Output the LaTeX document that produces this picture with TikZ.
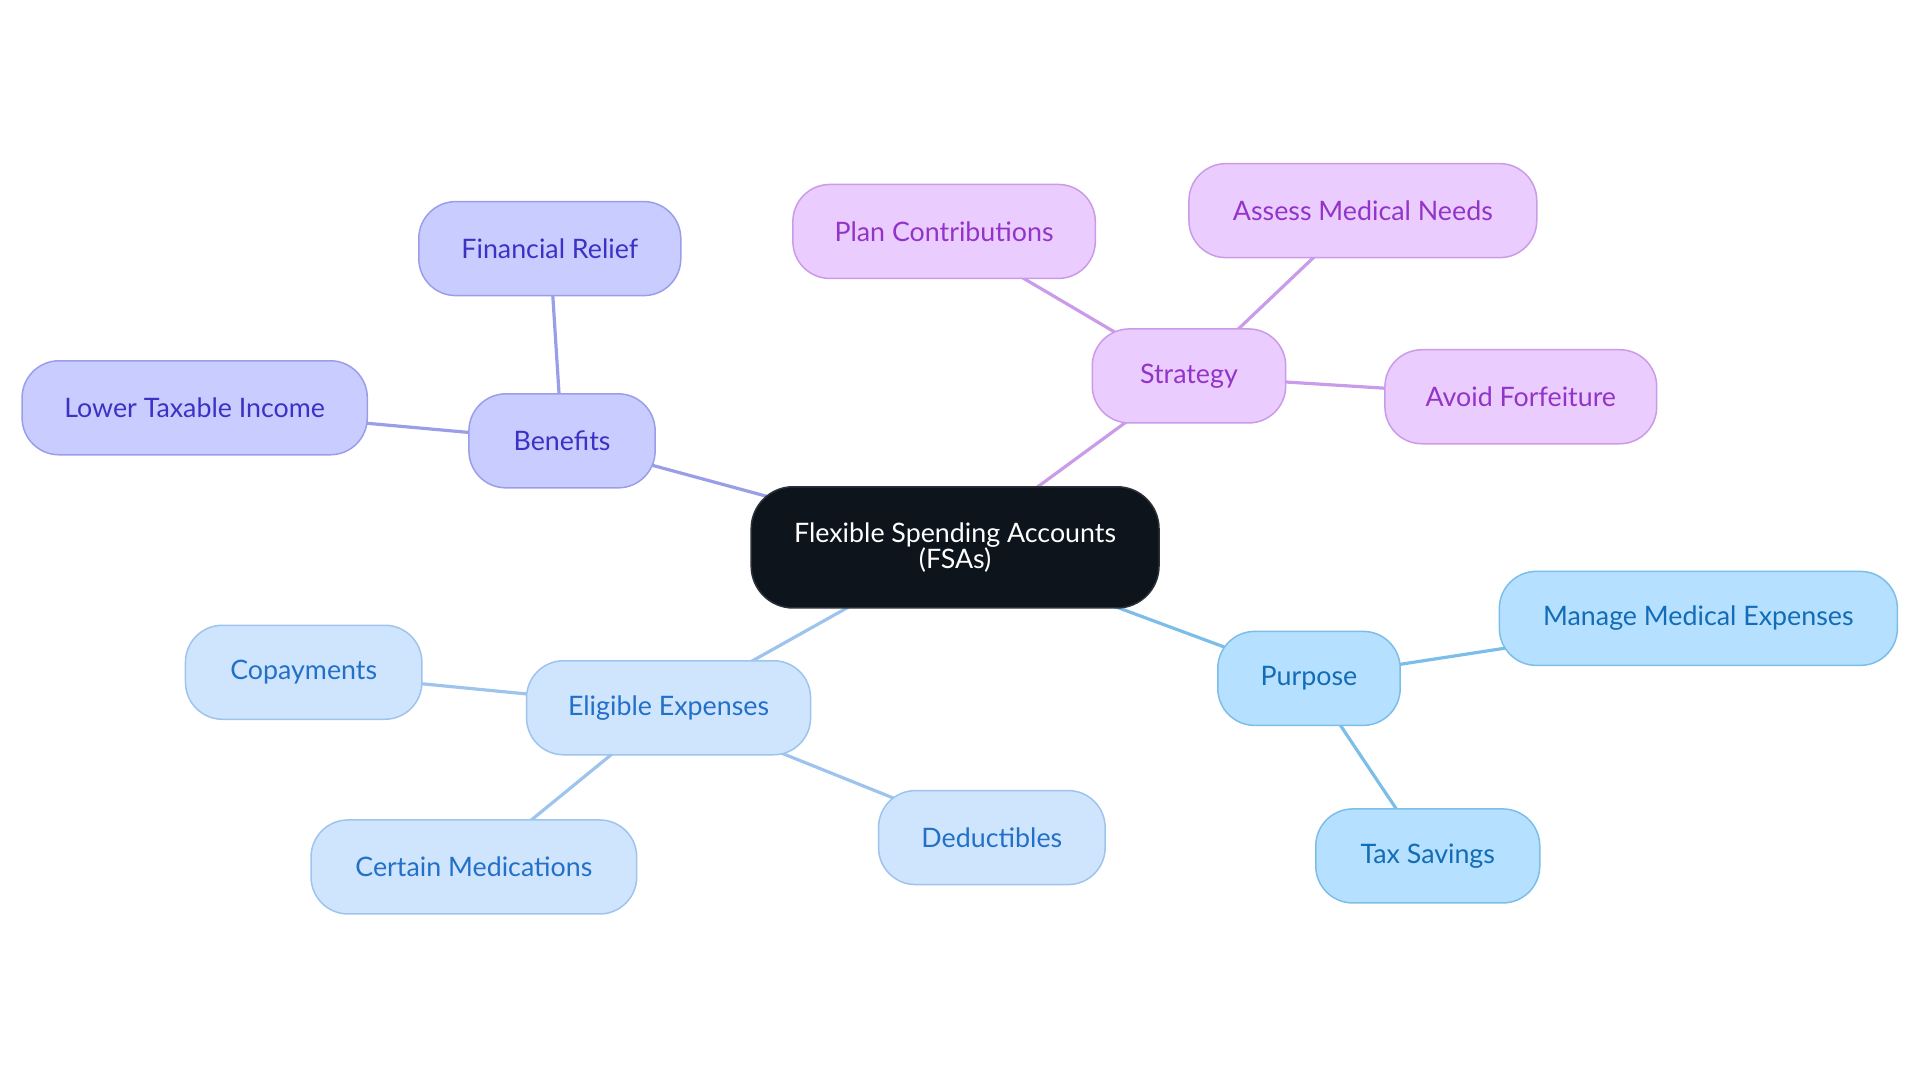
\documentclass[tikz,border=0pt]{standalone}
\usepackage{fontspec}
\setmainfont{Lato}
\usetikzlibrary{backgrounds}
\definecolor{HubFill}{HTML}{0D141B}
\definecolor{HubLine}{HTML}{2B3138}
\definecolor{BenefitFill}{HTML}{C8CCFF}
\definecolor{BenefitLine}{HTML}{9A9EE8}
\definecolor{BenefitText}{HTML}{3B32C4}
\definecolor{StrategyFill}{HTML}{EBCCFF}
\definecolor{StrategyLine}{HTML}{C99BE8}
\definecolor{StrategyText}{HTML}{9234C8}
\definecolor{PurposeFill}{HTML}{B5E0FF}
\definecolor{PurposeLine}{HTML}{7DBEE8}
\definecolor{PurposeText}{HTML}{136CB5}
\definecolor{ExpenseFill}{HTML}{CFE5FD}
\definecolor{ExpenseLine}{HTML}{9EC4EE}
\definecolor{ExpenseText}{HTML}{2370C8}
\tikzstyle{topic} = [rounded corners=18.5pt, minimum height=47pt, inner sep=0pt, line width=0.75pt, font=\fontsize{13.4}{13}\selectfont]
\tikzstyle{benefit} = [topic, fill=BenefitFill, draw=BenefitLine, text=BenefitText]
\tikzstyle{strategy} = [topic, fill=StrategyFill, draw=StrategyLine, text=StrategyText]
\tikzstyle{purpose} = [topic, fill=PurposeFill, draw=PurposeLine, text=PurposeText]
\tikzstyle{expense} = [topic, fill=ExpenseFill, draw=ExpenseLine, text=ExpenseText]
\tikzstyle{link} = [line width=1.6pt]
\begin{document}
\begin{tikzpicture}[x=0.6122pt,y=-0.6122pt]

	\useasboundingbox (0,0) rectangle (1568,884.4);

	% Hub
	\node[rounded corners=21pt, minimum width=203.9pt, minimum height=60.6pt, inner sep=0pt,
		fill=HubFill, draw=HubLine, line width=0.75pt, text=white, align=center,
		font=\fontsize{13.4}{13}\selectfont] (fsa) at (780,447) {Flexible Spending Accounts\\(FSAs)};

	% Benefits
	\node[benefit, minimum width=93.1pt] (benefits) at (459,360) {Benefits};
	\node[benefit, minimum width=131pt] (relief) at (449,203) {Financial Relief};
	\node[benefit, minimum width=172.6pt] (income) at (159,333) {Lower Taxable Income};

	% Strategy
	\node[strategy, minimum width=96.7pt] (strategy) at (971,307) {Strategy};
	\node[strategy, minimum width=151.2pt] (plan) at (771,189) {Plan Contributions};
	\node[strategy, minimum width=173.9pt] (assess) at (1113,172) {Assess Medical Needs};
	\node[strategy, minimum width=135.9pt] (forfeit) at (1242,324) {Avoid Forfeiture};

	% Purpose
	\node[purpose, minimum width=91.2pt] (purpose) at (1069,554) {Purpose};
	\node[purpose, minimum width=199pt] (manage) at (1387,505) {Manage Medical Expenses};
	\node[purpose, minimum width=112pt] (tax) at (1166,699) {Tax Savings};

	% Eligible Expenses
	\node[expense, minimum width=142pt] (eligible) at (546,578) {Eligible Expenses};
	\node[expense, minimum width=118.2pt] (copay) at (248,549) {Copayments};
	\node[expense, minimum width=162.8pt] (meds) at (387,708) {Certain Medications};
	\node[expense, minimum width=113.3pt] (deduct) at (810,684) {Deductibles};

	\begin{scope}[on background layer]
		\draw[link, BenefitLine] (fsa.center) -- (benefits.center);
		\draw[link, BenefitLine] (benefits.center) -- (relief.center);
		\draw[link, BenefitLine] (benefits.center) -- (income.center);
		\draw[link, StrategyLine] (fsa.center) -- (strategy.center);
		\foreach \leaf in {plan,assess,forfeit}
			\draw[link, StrategyLine] (strategy.center) -- (\leaf.center);
		\draw[link, PurposeLine] (fsa.center) -- (purpose.center);
		\foreach \leaf in {manage,tax}
			\draw[link, PurposeLine] (purpose.center) -- (\leaf.center);
		\draw[link, ExpenseLine] (fsa.center) -- (eligible.center);
		\foreach \leaf in {copay,meds,deduct}
			\draw[link, ExpenseLine] (eligible.center) -- (\leaf.center);
	\end{scope}

\end{tikzpicture}
\end{document}
